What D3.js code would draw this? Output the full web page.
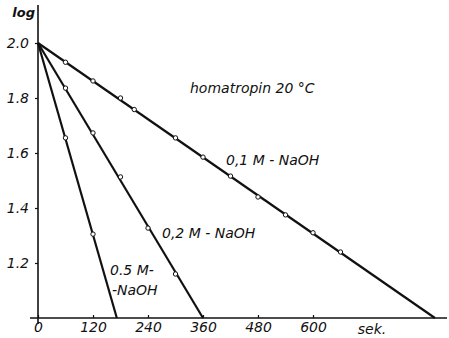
<!DOCTYPE html>
<html>
<head>
<meta charset="utf-8">
<script src="https://cdn.jsdelivr.net/npm/d3@7"></script>
<style>
  body { margin: 0; background: #fff; }
  text { font-family: "DejaVu Sans", sans-serif; font-style: italic; fill: #111; }
</style>
</head>
<body>
<div id="chart"></div>
<script>
// measured points (sek., log)
const series01 = [
  [60, 1.93], [120, 1.862], [180, 1.80], [210, 1.758], [300, 1.655],
  [360, 1.585], [420, 1.516], [480, 1.44], [540, 1.375], [600, 1.31], [660, 1.24],
];
const series02 = [[60, 1.836], [120, 1.673], [180, 1.513], [240, 1.327], [300, 1.16]];
const series05 = [[60, 1.655], [120, 1.305]];

// fitted lines: start and end
const line01 = [[0, 2.0], [866, 1.0]];
const line02 = [[0, 2.0], [360, 1.0]];
const line05 = [[0, 2.0], [172, 1.0]];

const xTicks = [0, 120, 240, 360, 480, 600];
const yTicks = [1.2, 1.4, 1.6, 1.8, 2.0];

const width = 449, height = 338;

const svg = d3.select("#chart").append("svg")
  .attr("width", width).attr("height", height);

const x = d3.scaleLinear().domain([0, 600]).range([38, 313]);
const y = d3.scaleLinear().domain([1.0, 2.0]).range([318, 43]);

// axes
const xAxis = svg.append("g")
  .attr("transform", `translate(0, ${y(1.0)})`)
  .call(d3.axisBottom(x).tickValues(xTicks).tickFormat(d3.format("d")).tickSize(-3).tickPadding(3));
xAxis.select(".domain").remove();
xAxis.append("line")
  .attr("x1", 30).attr("x2", 447)
  .attr("stroke", "#111").attr("stroke-width", 1.6);
xAxis.selectAll("text").style("font-size", "14px").attr("dy", "0.78em");
xAxis.append("text").attr("x", 372).attr("y", 16)
  .style("font-size", "14px").attr("text-anchor", "middle").text("sek.");

const yAxis = svg.append("g")
  .attr("transform", `translate(${x(0)}, 0)`)
  .call(d3.axisLeft(y).tickValues(yTicks).tickFormat(d3.format(".1f")).tickSize(3).tickPadding(6));
yAxis.select(".domain").remove();
yAxis.append("line")
  .attr("y1", 5).attr("y2", y(1.0) + 6)
  .attr("stroke", "#111").attr("stroke-width", 1.6);
yAxis.selectAll(".tick text").style("font-size", "14px");
yAxis.append("text").attr("x", -3).attr("y", 17)
  .style("font-size", "13px").style("font-weight", "bold").attr("text-anchor", "end").text("log");
svg.selectAll(".tick line").attr("stroke", "#111").attr("stroke-width", 1.2);

const lineGen = d3.line().x((d) => x(d[0])).y((d) => y(d[1]));

[line01, line02, line05].forEach((l) => {
  svg.append("path").datum(l)
    .attr("fill", "none").attr("stroke", "#111").attr("stroke-width", 2.2)
    .attr("d", lineGen);
});

[series01, series02, series05].forEach((s) => {
  svg.selectAll(null).data(s).enter().append("circle")
    .attr("cx", (d) => x(d[0])).attr("cy", (d) => y(d[1]))
    .attr("r", 2.2).attr("fill", "#fff").attr("stroke", "#111").attr("stroke-width", 1);
});

// labels
const labels = [
  { t: "homatropin 20 °C", x: 190, y: 93, s: 14 },
  { t: "0,1 M - NaOH", x: 226, y: 165, s: 14 },
  { t: "0,2 M - NaOH", x: 162, y: 238, s: 14 },
  { t: "0.5 M-", x: 110, y: 275, s: 14 },
  { t: "-NaOH", x: 112, y: 295, s: 14 },
];
labels.forEach((l) => {
  svg.append("text").attr("x", l.x).attr("y", l.y)
    .style("font-size", `${l.s}px`).text(l.t);
});
</script>
</body>
</html>
